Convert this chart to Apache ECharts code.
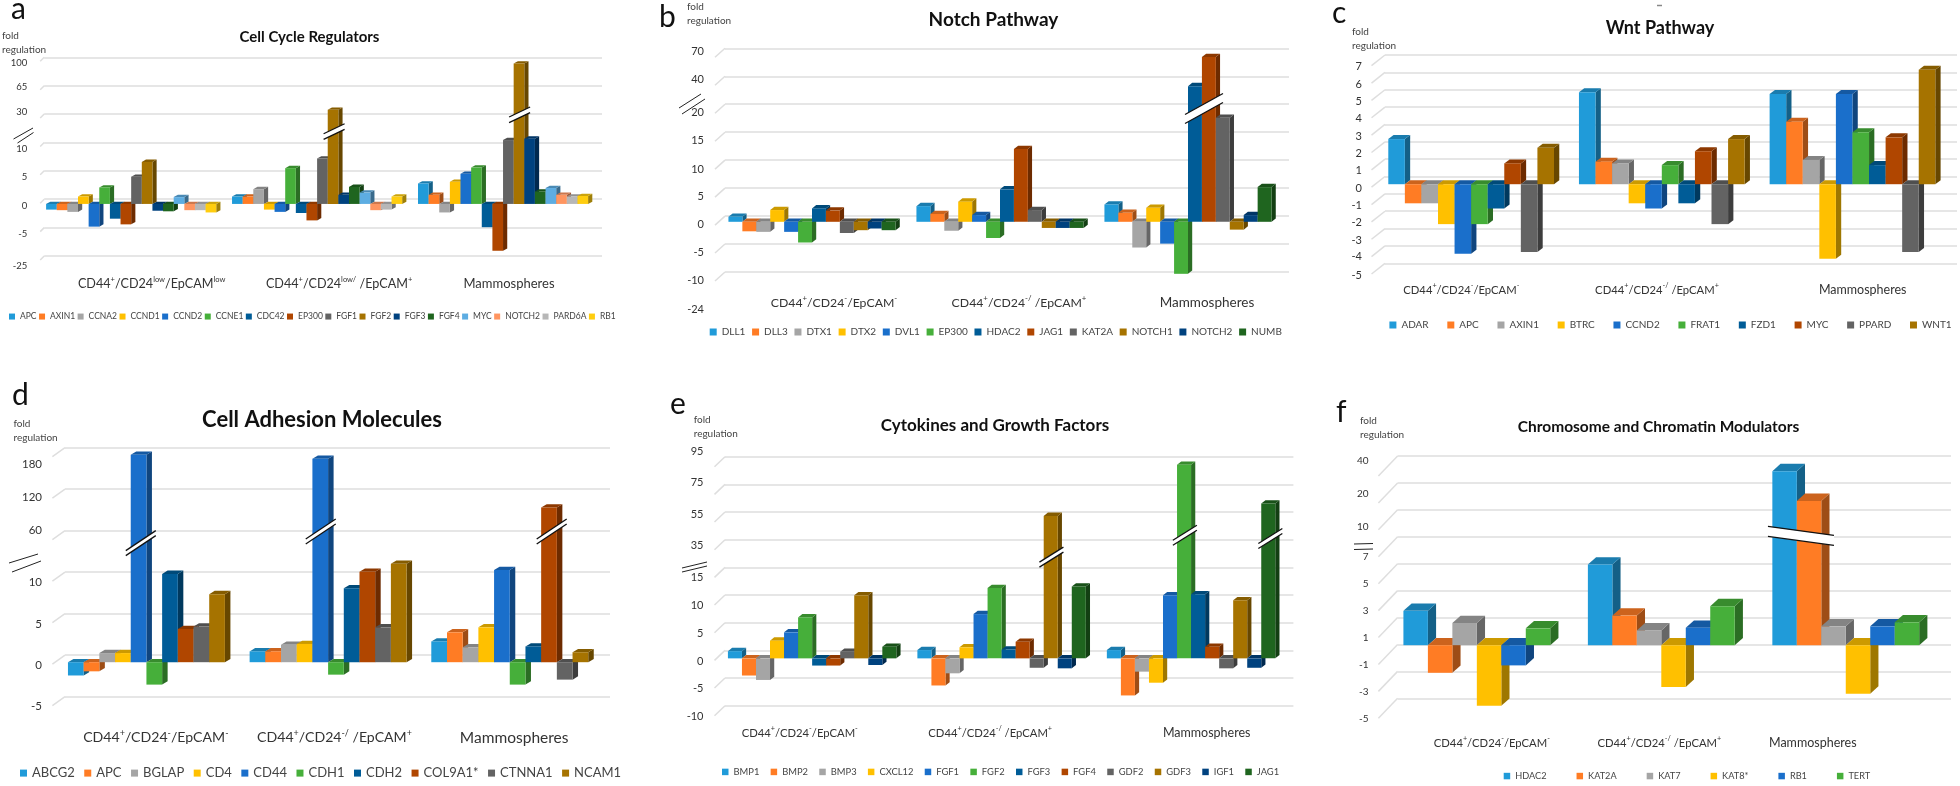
<!DOCTYPE html>
<html><head><meta charset="utf-8">
<style>html,body{margin:0;padding:0;background:#fff}#c{width:1960px;height:786px}</style>
<script src="https://cdn.jsdelivr.net/npm/echarts@6/dist/echarts.min.js"></script>
</head><body><div id="c"></div>
<script>
// ---------- data ----------
const foldLabel = 'fold\nregulation';

const aTitle = 'Cell Cycle Regulators';
const aCats = ['CD44^+^/CD24^low^/EpCAM^low^','CD44^+^/CD24^low/^ /EpCAM^+^','Mammospheres'];
const aGenes = ['APC','AXIN1','CCNA2','CCND1','CCND2','CCNE1','CDC42','EP300','FGF1','FGF2','FGF3','FGF4','MYC','NOTCH2','PARD6A','RB1'];
const aTicks = [-25,-5,0,5,10,30,65,100];
const a1 = [-1,-1.1,-1.4,1.3,-4,2.9,-2.6,-3.6,4.8,7.4,-1.2,-1.3,1.2,-1.1,-1.1,-1.5];
const a2 = [1.3,1.3,2.6,-1,-1.4,6.3,-1.6,-2.9,8,41,1.6,3,2,-1.1,-1,1.3];
const a3 = [3.6,1.6,-1.5,3.9,5.3,6.4,-4.1,-18,15,98,16,2.2,2.8,1.6,1.3,1.4];
const aBreaks = [[1,9.6,4.55],[2,9.56,5.14]];

const bTitle = 'Notch Pathway';
const bCats = ['CD44^+^/CD24^-^/EpCAM^-^','CD44^+^/CD24^-/^ /EpCAM^+^','Mammospheres'];
const bGenes = ['DLL1','DLL3','DTX1','DTX2','DVL1','EP300','HDAC2','JAG1','KAT2A','NOTCH1','NOTCH2','NUMB'];
const bTicks = [-24,-10,-5,0,5,10,15,20,40,70];
const b1 = [0.9,-1.7,-1.8,2.1,-1.8,-3.7,2.4,2,-2,-1.5,-1.2,-1.5];
const b2 = [2.8,1.4,-1.6,3.6,1.2,-2.9,5.8,13,2.1,-1.1,-1.1,-1.1];
const b3 = [3.1,1.6,-4.6,2.5,-3.9,-9.3,37,66.8,18.6,-1.4,1.2,6.2];
const bBreaks = [[2,7.15,7.05]];

const cTitle = 'Wnt Pathway';
const cCats = ['CD44^+^/CD24^-^/EpCAM^-^','CD44^+^/CD24^-/^ /EpCAM^+^','Mammospheres'];
const cGenes = ['ADAR','APC','AXIN1','BTRC','CCND2','FRAT1','FZD1','MYC','PPARD','WNT1'];
const cTicks = [-5,-4,-3,-2,-1,0,1,2,3,4,5,6,7];
const c1 = [2.6,-1.1,-1.1,-2.3,-4,-2.3,-1.4,1.2,-3.9,2.1];
const c2 = [5.3,1.3,1.2,-1.1,-1.4,1.1,-1.1,1.9,-2.3,2.6];
const c3 = [5.2,3.6,1.4,-4.3,5.2,3,1.1,2.7,-3.9,6.6];
const cBreaks = [];

const dTitle = 'Cell Adhesion Molecules';
const dCats = ['CD44^+^/CD24^-^/EpCAM^-^','CD44^+^/CD24^-/^ /EpCAM^+^','Mammospheres'];
const dGenes = ['ABCG2','APC','BGLAP','CD4','CD44','CDH1','CDH2','COL9A1*','CTNNA1','NCAM1'];
const dTicks = [-5,0,5,10,60,120,180];
const d1 = [-1.6,-1.1,1.1,1.1,180,-2.7,16.4,4,4.3,8.2];
const d2 = [1.3,1.3,2.1,2.2,174,-1.5,8.9,19,4.2,28.5];
const d3 = [2.5,3.6,1.8,4.2,21,-2.7,1.9,103.6,-2.1,1.2];
const dBreaks = [[0,4.64,3.87],[1,4.53,4.15],[2,7.67,4.15]];

const eTitle = 'Cytokines and Growth Factors';
const eCats = ['CD44^+^/CD24^-^/EpCAM^-^','CD44^+^/CD24^-/^ /EpCAM^+^','Mammospheres'];
const eGenes = ['BMP1','BMP2','BMP3','CXCL12','FGF1','FGF2','FGF3','FGF4','GDF2','GDF3','IGF1','JAG1'];
const eTicks = [-10,-5,0,5,10,15,35,55,75,95];
const e1 = [1.3,-3.1,-3.9,3.2,4.7,7.4,-1.3,-1.3,1.2,11.4,-1.2,2.1];
const e2 = [1.5,-4.9,-2.7,2,8,12.7,1.6,3,-1.7,58,-1.8,13];
const e3 = [1.5,-6.7,-2.4,-4.4,11.4,95,11.6,2.1,-1.8,10.5,-1.7,67];
const eBreaks = [[1,9.55,5.66],[2,5.56,6.45],[2,11.65,6.33]];

const fTitle = 'Chromosome and Chromatin Modulators';
const fCats = ['CD44^+^/CD24^-^/EpCAM^-^','CD44^+^/CD24^-/^ /EpCAM^+^','Mammospheres'];
const fGenes = ['HDAC2','KAT2A','KAT7','KAT8*','RB1','TERT'];
const fTicks = [-5,-3,-1,1,3,5,7,10,20,40];
const f1 = [2.55,-2.05,1.65,-4.5,-1.5,1.25];
const f2 = [6,2.2,1.1,-3.1,1.3,2.9];
const f3 = [39.3,18.6,1.4,-3.6,1.4,1.7];
const fBreaks = [[2,1.17,6.56]];

const palette = ['#209bd9','#ff7c24','#a5a5a5','#ffc000','#1a6fcb','#46af3a','#005c97','#b04600','#636363','#a67300','#00427f','#1f651f','#5dade2','#ff9560','#b7b7b7','#ffcd0f'];

// ---------- layout (pixels) ----------
const FONT = 'Lato';
const panels = [
 {id:'a',title:aTitle,cats:aCats,genes:aGenes,ticks:aTicks,vals:[a1,a2,a3],breaks:aBreaks,
  l:44.2,r:602,t:57.3,b:256,frac:.915,dx:-6,dy:4.7,sx:4.2,cy:2.3,tx:-4,ty:4,
  off:[10,6.3,6.3,6.3,6.3,-1.7,1.7,6],lm:17,yfs:9.5,
  catY:284,catFs:13,catK:.97,shift:[14.5,16,0],
  tx0:304.5,ty0:32,tfs:15,letter:['a',20,14],fold:[2,35],
  leg:[9,318,8.5,2.5,6],brk:[10.5,5,2.8],slash:[[13.5,139,33,128],[17.5,143,33.5,132.5]]},
 {id:'b',title:bTitle,cats:bCats,genes:bGenes,ticks:bTicks,vals:[b1,b2,b3],breaks:bBreaks,
  l:725,r:1289,t:48.3,b:300,frac:.889,dx:-7,dy:5.7,sx:4.2,cy:3.3,tx:-10,ty:9,hideMin:true,
  off:[9.3,8.7,8.7,8,8.7,9,8.7,8.3,3.3,2.7],lm:21,yfs:11,
  catY:303,catFs:13.5,catK:.91,shift:[15,12,12],
  tx0:988.5,ty0:15.3,tfs:19,letter:['b',668,22],fold:[687,6],
  leg:[709.7,334,10,6.7,7],brk:[19,10.5,4.5],slash:[[679,108,701,94],[682,114,705,99]]},
 {id:'c',title:cTitle,cats:cCats,genes:cGenes,ticks:cTicks,vals:[c1,c2,c3],breaks:cBreaks,
  l:1385,r:1957,t:55,b:263.3,frac:.869,dx:-9.2,dy:7.7,sx:5.3,cy:4,tx:-13.5,ty:10.7,
  off:[11.7,11,11.7,11.7,11.7,11.7,11.7,11.7,11.7,11.7,11.7,11.7,11.7],lm:23,yfs:11,
  catY:290,catFs:12.5,catK:.9,shift:[-19,-14,1],
  tx0:1655,ty0:23,tfs:18,letter:['c',1341,18],fold:[1352,31],
  leg:[1389.4,327,10,18.7,7],brk:[0,0,0],slash:[]},
 {id:'d',title:dTitle,cats:dCats,genes:dGenes,ticks:dTicks,vals:[d1,d2,d3],breaks:dBreaks,
  l:65,r:610,t:447.7,b:696.7,frac:.864,dx:-9.4,dy:7,sx:5.5,cy:3.3,tx:-12.6,ty:9,
  off:[10,9.7,10.3,10,-.7,8,16.3],lm:23,yfs:11.5,
  catY:737.7,catFs:15.5,catK:.91,shift:[0,-3,-5],
  tx0:317,ty0:415,tfs:22,letter:['d',21,400],fold:[13.5,423],
  leg:[20,775.7,13,9.5,7],brk:[15,10,2.5],slash:[[9,563,38,554],[12,572,41,561]]},
 {id:'e',title:eTitle,cats:eCats,genes:eGenes,ticks:eTicks,vals:[e1,e2,e3],breaks:eBreaks,
  l:725,r:1293.4,t:456.7,b:705.7,frac:.889,dx:-7.6,dy:8,sx:4.2,cy:3.3,tx:-10.5,ty:10,
  off:[11,10.3,10.7,10.7,10.3,9.7,5.7,2.3,-1.7,-5],lm:21.5,yfs:11,
  catY:733,catFs:12.5,catK:.9,shift:[-20,-19,8],
  tx0:990,ty0:421,tfs:17,letter:['e',679,409],fold:[693.7,419],
  leg:[722,774,9.4,11.3,6.5],brk:[12,7.5,2.5],slash:[[682,568,707,562],[682,572,707,566]]},
 {id:'f',title:fTitle,cats:fCats,genes:fGenes,ticks:fTicks,vals:[f1,f2,f3],breaks:fBreaks,
  l:1397.6,r:1951,t:456,b:698.3,frac:.796,dx:-13,dy:14.2,sx:8.2,cy:7.3,tx:-19.2,ty:20,
  off:[20,20,20,20,20,20,20,16.7,11.3,5],lm:29,yfs:10,
  catY:743,catFs:12.5,catK:.9,shift:[2,-15,-46],
  tx0:1653.5,ty0:421.7,tfs:15.5,letter:['f',1345,417],fold:[1360,420],
  leg:[1503.7,778,9.2,30,6.5],brk:[33,-4.5,5],slash:[[1354,544,1373,543.5],[1354,549.5,1373,549]]}
];

// value -> position on the equally spaced (broken) axis
function toAxis(ticks, v){
  for(let i=0;i<ticks.length-1;i++){
    if(v<=ticks[i+1]) return i+(v-ticks[i])/(ticks[i+1]-ticks[i]);
  }
  return ticks.length-1;
}
function shade(hex,k){
  const n=parseInt(hex.slice(1),16);
  const f=s=>Math.round(((n>>s)&255)*k);
  return 'rgb('+f(16)+','+f(8)+','+f(0)+')';
}
function catRich(s){
  if(s.indexOf('^')<0) return '{n|'+s+'}';
  return s.split('^').map((t,i)=>t===''?'':(i%2?'{s|'+t+'}':'{c|'+t+'}')).join('');
}

const option={animation:false,backgroundColor:'#fff',title:[],grid:[],xAxis:[],yAxis:[],legend:[],series:[],graphic:{elements:[]}};
const GRIDC='#dedede';

panels.forEach((p,k)=>{
  const n=p.genes.length, zero=toAxis(p.ticks,0);
  option.title.push({text:p.title,left:p.tx0,top:p.ty0,textAlign:'center',textVerticalAlign:'middle',
    textStyle:{fontFamily:FONT,fontSize:p.tfs,fontWeight:'bold',color:'#111'}});
  option.grid.push({left:p.l,top:p.t,width:p.r-p.l,height:p.b-p.t,containLabel:false});
  const rich={};
  p.ticks.forEach((t,i)=>{
    const o=p.off[i];
    rich['l'+i]={fontFamily:FONT,fontSize:p.yfs,color:'#333',padding:o>=0?[2*o,0,0,0]:[0,0,-2*o,0]};
  });
  option.yAxis.push({type:'value',gridIndex:k,min:0,max:p.ticks.length-1,interval:1,
    axisLine:{show:false},axisTick:{show:false},
    splitLine:{show:true,showMinLine:!p.hideMin,lineStyle:{color:GRIDC,width:1.5}},
    axisLabel:{show:true,margin:p.lm,hideOverlap:false,showMinLabel:true,showMaxLabel:true,
      formatter:(v)=>{const i=Math.round(v);return '{l'+i+'|'+p.ticks[i]+'}';},rich}});
  const lh=p.catFs+3;
  option.xAxis.push({type:'category',gridIndex:k,
    data:p.cats.map((c,i)=>{const s=p.shift[i];return {value:c,textStyle:{padding:s>=0?[0,0,0,2*s]:[0,-2*s,0,0]}};}),
    axisLine:{show:false,onZero:false},axisTick:{show:false},splitLine:{show:false},
    axisLabel:{interval:0,margin:p.catY-p.b-lh/2,formatter:catRich,
      rich:{n:{fontFamily:FONT,fontSize:p.catFs,color:'#333',lineHeight:lh},
            c:{fontFamily:FONT,fontSize:p.catFs*p.catK,color:'#333',lineHeight:lh},
            s:{fontFamily:FONT,fontSize:p.catFs*.58,color:'#333',verticalAlign:'top'}}}});
  const L=p.leg;
  option.legend.push({show:true,left:L[0],top:L[1]-L[2]*.7,padding:0,orient:'horizontal',width:1000,
    itemGap:L[3],itemWidth:L[4],itemHeight:L[4],icon:'rect',selectedMode:false,
    data:p.genes.map(g=>p.id+':'+g),formatter:nm=>nm.slice(2),
    textStyle:{fontFamily:FONT,fontSize:L[2],color:'#444'}});

  // slanted wall ticks
  option.series.push({type:'custom',xAxisIndex:k,yAxisIndex:k,silent:true,z:1,encode:{x:0,y:1},
    data:p.ticks.map((t,i)=>[0,i]).filter(d=>!(p.hideMin&&d[1]===0)),
    renderItem:(params,api)=>{
      const y=api.coord([0,api.value(1)])[1], x=params.coordSys.x;
      return {type:'line',shape:{x1:x,y1:y,x2:x+p.tx,y2:y+p.ty},style:{stroke:GRIDC,lineWidth:1.5}};
    }});

  // bars
  p.genes.forEach((g,si)=>{
    const col=palette[si];
    option.series.push({type:'custom',name:p.id+':'+g,xAxisIndex:k,yAxisIndex:k,silent:true,z:2,
      itemStyle:{color:col},encode:{x:0,y:1},
      data:p.vals.map((arr,c)=>[c,toAxis(p.ticks,arr[si])]),
      renderItem:(params,api)=>{
        const c=api.value(0), v=api.value(1);
        const base=api.coord([c,zero]), top=api.coord([c,v]);
        const catW=api.size([1,0])[0], w=catW*p.frac/n;
        const x=base[0]-catW*p.frac/2+si*w+p.dx;
        const ya=top[1]+p.dy, yb=base[1]+p.dy;
        const ty=Math.min(ya,yb), by=Math.max(ya,yb);
        const sx=p.sx, cy=p.cy;
        return {type:'group',children:[
          {type:'polygon',shape:{points:[[x+w,ty],[x+w+sx,ty-cy],[x+w+sx,by-cy],[x+w,by]]},style:{fill:shade(col,.62)}},
          {type:'polygon',shape:{points:[[x,ty],[x+w,ty],[x+w+sx,ty-cy],[x+sx,ty-cy]]},style:{fill:shade(col,.8)}},
          {type:'rect',shape:{x:x,y:ty,width:w,height:by-ty},style:{fill:col}}
        ]};
      }});
  });

  // axis-break bands on tall bars
  if(p.breaks.length){
    const hw=p.brk[0],rise=p.brk[1],gap=p.brk[2];
    option.series.push({type:'custom',xAxisIndex:k,yAxisIndex:k,silent:true,z:5,encode:{x:0,y:1},
      data:p.breaks.map(b=>[b[0],b[2],b[1]]),
      renderItem:(params,api)=>{
        const c=api.value(0), v=api.value(1), pos=api.value(2);
        const pt=api.coord([c,v]);
        const catW=api.size([1,0])[0], w=catW*p.frac/n;
        const cx=pt[0]-catW*p.frac/2+pos*w+p.dx, cyy=pt[1]+p.dy;
        const x1=cx-hw,x2=cx+hw,y1=cyy+rise,y2=cyy-rise;
        return {type:'group',children:[
          {type:'polygon',shape:{points:[[x1,y1-gap],[x2,y2-gap],[x2,y2+gap],[x1,y1+gap]]},style:{fill:'#fff'}},
          {type:'line',shape:{x1:x1,y1:y1-gap,x2:x2,y2:y2-gap},style:{stroke:'#111',lineWidth:1.3}},
          {type:'line',shape:{x1:x1,y1:y1+gap,x2:x2,y2:y2+gap},style:{stroke:'#111',lineWidth:1.3}}
        ]};
      }});
  }

  // annotations
  const G=option.graphic.elements;
  G.push({type:'text',left:p.letter[1]-9,top:p.letter[2]-20,silent:true,
    style:{text:p.letter[0],fontFamily:FONT,fontSize:30,fill:'#111'}});
  G.push({type:'text',left:p.fold[0],top:p.fold[1]-6,silent:true,
    style:{text:foldLabel,fontFamily:FONT,fontSize:10,lineHeight:13.6,fill:'#444'}});
  p.slash.forEach(s=>G.push({type:'line',silent:true,shape:{x1:s[0],y1:s[1],x2:s[2],y2:s[3]},style:{stroke:'#222',lineWidth:1}}));
});
option.graphic.elements.push({type:'line',silent:true,shape:{x1:1657,y1:5.5,x2:1662,y2:5.5},style:{stroke:'#888',lineWidth:1.5}});

echarts.init(document.getElementById('c')).setOption(option);
</script></body></html>
